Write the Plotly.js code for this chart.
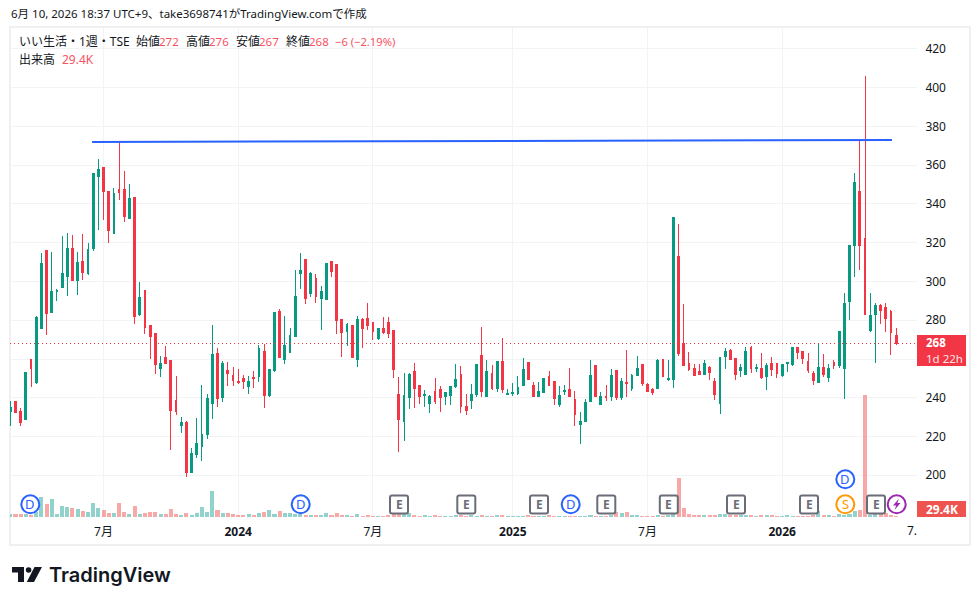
<!DOCTYPE html>
<html><head><meta charset="utf-8">
<script src="https://cdn.plot.ly/plotly-3.0.1.min.js"></script>
<style>html,body{margin:0;padding:0;background:#fff}#c{width:980px;height:605px}
.boxlayer path{shape-rendering:crispEdges}</style>
</head><body><div id="c"></div>
<script>
// Weekly candles, index 0 = week of 2023-02-27, index 171 = week of 2026-06-08
const open = [232.7,237.9,232.7,228.6,259.6,247.7,275.6,315.8,283.8,294.7,
296.7,302.4,316.9,300.3,310.2,304,316.9,354,358.7,346.3,
324.6,347.3,347.3,332.4,343.2,282.8,295.2,277.1,273,254.9,
260.6,259,238.4,225.5,227,201.2,210.5,214.6,221.3,237.3,
262.6,239.9,253.9,251.3,248.2,249.7,245.6,250.4,250.8,263.7,
241,253.9,284.3,259.6,263.2,271.4,304,311.2,293.6,301.4,
291,290.5,310.2,308.6,280.2,274,277.1,259.6,280.2,280.7,
278.7,270.4,275.6,278.7,274.5,241.5,228,239.9,253.4,246.1,
241,236.8,243,244.1,240.4,241,245.6,251.8,235.3,238.8,
241.9,262,240.9,252.7,245,258.9,241.9,242.4,242.4,246.5,
258.4,246.5,240.9,242.9,251.2,248.6,236.7,243.4,244.5,239.3,
226.4,228,238.3,256.9,236.7,240.9,240.9,254.3,240.3,248.1,
245,251.7,257.4,247.1,244.5,245,259.7,249.3,249.3,312.8,
267.9,257.6,255,253.5,251.9,255.5,248.3,236.9,261.2,264.3,
260.2,254,251.9,265.9,255,255,250.9,257.6,257.6,251.4,
257.6,257.1,265.9,263.8,258.6,252.4,247.8,255.5,250.4,258.1,
256.6,255,289.6,318.8,346.2,322,274.6,282.9,287.5,286.5,
284.4,272];
const high = [238.4,238.4,234.8,252.8,260,282.3,314.8,316.4,315.3,296.2,
323.6,325.1,324.1,315.3,324.6,320,355.9,363.3,358.7,346.3,
348.4,372.6,357.1,350.4,343.2,299.8,295.2,277.1,273,261.6,
266.8,259,251.3,230.1,228,214.1,229.6,246.6,242,277.6,
265.7,259,258.5,255.9,254.9,251.8,251.3,253.9,267.3,267.8,
254.9,284.3,285.9,282.3,276.1,306,314.8,311.2,305,304,
297.8,309.6,310.2,309.1,280.2,278.7,277.1,282.3,281.2,289,
278.7,275.6,281.8,281.8,275,250.8,252.8,252.8,258,246.1,
244.1,241.5,250.3,246.1,242.5,246.1,257.5,256.5,242,247,
257.4,276.5,259.4,256.9,258.9,270.8,244.5,247.6,251.2,260.5,
258.4,248.1,248.1,250.2,253.8,248.6,246,246.5,255.3,243.4,
232.6,239.3,259.4,256.9,242.9,246.5,254.8,254.3,250.2,264.6,
252.2,261.5,257.4,247.6,245,260,259.7,259.7,333,329.9,
288.6,263.8,257.6,257.6,259.7,256.6,250.4,261.2,265.9,265.3,
260.2,257.6,266.4,266.9,257.6,263.3,258.1,261.2,257.6,257.1,
258.6,265.9,265.9,263.8,263.3,254,267.9,262.8,257.6,259.7,
274.1,294.3,318.5,356,373,406,294.3,289.1,288.6,289.1,
285.5,276];
const low = [225.5,232.2,225.5,228.6,245.6,247.2,275.6,272.5,283.8,290,
296.7,292.6,300.3,293.1,300.9,303.4,315.8,326.7,331.8,320,
324.6,342.2,330.8,332.4,278.1,282.3,273,260,252.3,250.8,
257.5,213.1,231.2,221.9,199.1,201.2,208.9,207.4,218.8,229.1,
235.3,237.9,246.1,246.1,247.2,244.6,242,245.1,248.2,234.8,
240.4,253.4,260.6,257.5,263.2,271.4,296.2,288.5,292.1,289,
275,290.5,302.4,273,261.1,266.8,260.6,255.9,265.7,275,
269.9,269.9,273,270.9,250.3,212,217.7,234.3,234.8,236.8,
235.3,232.2,236.8,232.7,236.3,236.3,245.1,232.2,231.2,234.1,
240.3,240.3,240.9,244,242.9,242.4,241.9,240.9,241.4,246.5,
249.1,240.9,240.3,242.9,246.5,236.2,235.2,241.4,240.9,225.4,
216,228,238.3,240.3,236.7,238.3,238.3,238.8,238.8,240.3,
243.4,251.7,246,242.9,241.4,245,250.9,248.8,245.2,261.7,
256.6,254,251.4,251.9,251.9,249.3,239,231.8,255,259.7,
249.3,250.9,251.9,252.9,253.5,249.8,244.2,251.4,250.4,250.9,
253.5,256.6,260.2,257.6,252.9,246.7,247.8,250.9,248.3,255,
255.5,239.5,280.3,302.5,306.1,282.9,274.1,258.1,278.2,274.1,
262.2,267];
const close = [234.8,232.2,227,252.8,254.9,281.2,309.1,283.3,294.7,295.2,
304,316.9,300.3,309.6,304.5,316.4,355.6,357.7,346.3,326.2,
345.3,345.8,333.4,342.7,281.8,291.6,276.1,271.4,257,257.5,
257.5,233.2,232.7,227,201.7,211.5,216.2,220.8,239.4,262.1,
239.4,257.5,252.3,248.7,247.7,248.2,248.2,249.9,265.2,241,
254.4,283.8,260.6,266.8,271.9,292.1,305.5,291,304,292.1,
294.7,309.1,305,279.7,273.5,277.6,260.6,280.2,275.6,277.1,
274,275.6,273.5,273,254.4,228.6,241,251.8,244.6,240.4,
241.5,240.4,237.9,239.9,242.5,245.6,249.2,235.3,233.2,241.9,
257.4,243.4,253.8,245,258.9,244.5,242.4,242.9,245.5,254.8,
249.6,240.9,243.4,250.2,246.5,239.8,241.4,244,240.9,231.6,
227.9,237.8,251.7,240.9,240.9,240.3,251.7,240.3,248.6,247.6,
251.7,255.3,247.6,243.4,242.9,259.4,250.9,249.8,333,262.8,
256.6,254.5,251.4,251.9,257.6,252.9,241.6,260.7,263.8,259.7,
251.9,255.5,263.8,255,255.5,250.4,256.6,254.5,252.4,257.1,
258.1,265.9,263.3,260.2,254,248.8,255.5,251.9,255,256.6,
274.1,288.6,318.5,351.3,318.8,282.9,282.4,287.5,285,280.8,
273.6,268];
// Volume, thousands of shares
const volume = [80,80,80,80,50,150,600,380,530,80,
330,300,280,230,180,150,420,270,210,130,
120,420,150,90,330,90,120,150,150,90,
90,240,90,60,120,60,120,300,150,780,
210,120,120,90,60,60,90,60,120,150,
210,90,180,120,120,90,80,60,60,60,
60,120,60,120,60,60,30,90,30,50,
30,30,30,60,90,90,90,120,60,30,
60,30,60,30,30,30,60,60,30,60,
30,60,30,30,60,60,30,30,30,30,
60,30,30,30,60,30,30,30,30,30,
30,30,60,30,30,30,60,150,120,150,
60,60,30,30,30,60,30,50,100,1160,
270,90,60,60,60,60,60,90,90,60,
60,60,60,60,30,60,60,60,30,30,
60,30,30,30,30,60,180,60,60,30,
90,60,90,180,210,3650,60,90,90,120,
60,29.4];
const weekIndex = open.map((_, i) => i);
const xTickIndex = [18, 44, 70, 97, 123, 149];
const xTickText = ['7月','<b>2024</b>','7月','<b>2025</b>','7月','<b>2026</b>'];
const priceTicks = [200,220,240,260,280,300,320,340,360,380,400,420];
// the 260 label lies under the last-price badge in the reference
const priceTickText = ['200','220','240','','280','300','320','340','360','380','400','420'];
const trendX = [15.8, 170.2];
const trendY = [372, 373];
const lastClose = 268;

const UP='#089981', DOWN='#F23645', CORAL='#F7525F', INK='#131722';
const W=980,H=605,L=10,T=27,PW=907,PH=490;
const px=x=>(x-L)/PW, py=y=>1-(y-T)/PH;
const FONT='"Noto Sans","Noto Sans CJK JP",sans-serif';

const volColors = volume.map((_,i)=> close[i]>=open[i] ? 'rgba(38,166,154,0.5)' : 'rgba(239,83,80,0.5)');

const traces=[
 {type:'bar',x:weekIndex,y:volume,marker:{color:volColors,line:{width:0}},width:0.78,xaxis:'x',yaxis:'y',hoverinfo:'skip'},
 {type:'candlestick',x:weekIndex,open,high,low,close,xaxis:'x',yaxis:'y2',whiskerwidth:0,
  increasing:{line:{color:UP,width:1},fillcolor:UP},decreasing:{line:{color:DOWN,width:1},fillcolor:DOWN},hoverinfo:'skip'},
 {type:'scatter',mode:'lines',x:trendX,y:trendY,xaxis:'x',yaxis:'y2',line:{color:'#2962FF',width:2},hoverinfo:'skip'}
];

const shapes=[];
const ann=[];
function txt(x,y,text,o={}){ann.push(Object.assign({xref:'paper',yref:'paper',x:px(x),y:py(y),text,showarrow:false,xanchor:'left',yanchor:'middle',borderpad:0,
  font:{family:FONT,size:12,color:INK}},o));}
function rect(x0,y0,x1,y1,fill,line,lw){shapes.push({type:'rect',xref:'paper',yref:'paper',x0:px(x0),y0:py(y0),x1:px(x1),y1:py(y1),fillcolor:fill,line:{color:line||fill,width:lw===undefined?0:lw},layer:'above'});}
function pathShape(pts,fill){const d=pts.map((p,i)=>(i?'L':'M')+px(p[0])+','+py(p[1])).join(' ')+' Z';
  shapes.push({type:'path',xref:'paper',yref:'paper',path:d,fillcolor:fill,line:{width:0},layer:'above'});}
function circle(cx,cy,r,color){shapes.push({type:'circle',xref:'paper',yref:'paper',x0:px(cx-r),x1:px(cx+r),y0:py(cy+r),y1:py(cy-r),fillcolor:'#fff',line:{color,width:2},layer:'above'});}

// frame
shapes.push({type:'rect',xref:'paper',yref:'paper',x0:px(10),x1:px(970),y0:py(545),y1:py(27),line:{color:'#F0F0F2',width:2},fillcolor:'rgba(0,0,0,0)',layer:'below'});
// last price line
shapes.push({type:'line',xref:'paper',yref:'y2',x0:0,x1:1,y0:lastClose,y1:lastClose,line:{color:DOWN,width:1.2,dash:'1px 3px'},layer:'above'});

// events
[[30.3,504.3],[300.7,504.3],[570.7,504.3],[845.3,479.3]].forEach(p=>{circle(p[0],p[1],9,'#2962FF');txt(p[0],p[1],'D',{xanchor:'center',font:{family:FONT,size:13,color:'#2962FF'}});});
circle(845.3,504.3,9,'#FF9800');txt(845.3,504.3,'S',{xanchor:'center',font:{family:FONT,size:13,color:'#FF9800'}});
circle(896.7,504.3,9,'#9C27B0');
pathShape([[899,498.5],[893,505.5],[896.2,505.5],[894.5,510],[900.5,503],[897.3,503]],'#9C27B0');
[399,466.3,539,606.3,668.8,736,809,876].forEach(cx=>{
  const r=2,a=cx-9,b=cx+9,c=495.5,d=513.5;
  const X=px,Y=py;
  shapes.push({type:'path',xref:'paper',yref:'paper',path:`M${X(a+r)},${Y(c)} L${X(b-r)},${Y(c)} Q${X(b)},${Y(c)} ${X(b)},${Y(c+r)} L${X(b)},${Y(d-r)} Q${X(b)},${Y(d)} ${X(b-r)},${Y(d)} L${X(a+r)},${Y(d)} Q${X(a)},${Y(d)} ${X(a)},${Y(d-r)} L${X(a)},${Y(c+r)} Q${X(a)},${Y(c)} ${X(a+r)},${Y(c)} Z`,fillcolor:'#fff',line:{color:'#6A6D78',width:2},layer:'above'});
  txt(cx,504.5,'<b>E</b>',{xanchor:'center',font:{family:FONT,size:12,color:'#6A6D78'}});
});

// price badges
rect(917,335,966,366,DOWN);
txt(925,342.5,'<b>268</b>',{font:{family:FONT,size:11.5,color:'#fff'}});
txt(925,358.5,'1d 22h',{font:{family:FONT,size:11.5,color:'#FFE3E5'}});
rect(917,501,966,517,'#EF5350');
txt(925,509.5,'<b>29.4K</b>',{font:{family:FONT,size:12,color:'#fff'}});

// cut-off label at the right edge of the time scale
txt(918,530.5,'7.',{xanchor:'right',font:{family:FONT,size:12,color:INK}});

// header text
txt(10,14,'6月 10, 2026 18:37 UTC+9、take3698741がTradingView.comで作成',{font:{family:FONT,size:11.5,color:INK}});
txt(18,41,'いい生活・1週・TSE');
[[135,'始値',158,'272'],[185,'高値',208,'276'],[235,'安値',258,'267'],[285,'終値',308,'268']].forEach(s=>{
  txt(s[0],41,s[1]); txt(s[2],41,s[3],{font:{family:FONT,size:11.5,color:CORAL}});
});
txt(334,41,'−6 (−2.19%)',{font:{family:FONT,size:11.2,color:CORAL}});
txt(18,59,'出来高');
txt(61,59,'29.4K',{font:{family:FONT,size:12,color:CORAL}});

// logo
const LOGO='#131722';
pathShape([[12,567],[24,567],[24,582],[18,582],[18,572.5],[12,572.5]],LOGO);
shapes.push({type:'circle',xref:'paper',yref:'paper',x0:px(25.8),x1:px(31.4),y0:py(572.8),y1:py(567.2),fillcolor:LOGO,line:{width:0},layer:'above'});
pathShape([[34.5,567],[42,567],[34,582],[26.8,582]],LOGO);
txt(47.5,575,'TradingView',{font:{family:'Inter,Roboto,sans-serif',size:20,color:LOGO,weight:600}});

const layout={
 width:W,height:H,margin:{l:L,t:T,r:W-L-PW,b:H-T-PH,pad:0},paper_bgcolor:'#fff',plot_bgcolor:'#fff',showlegend:false,bargap:0,
 boxgap:0.5,
 font:{family:FONT,size:12,color:INK},
 xaxis:{range:[-0.058,175.03],tickmode:'array',tickvals:xTickIndex,ticktext:xTickText,showgrid:true,gridcolor:'#F2F3F5',gridwidth:1,zeroline:false,showline:false,
   ticks:'outside',ticklen:4,tickcolor:'rgba(0,0,0,0)',tickangle:0,tickfont:{family:FONT,size:12,color:INK},rangeslider:{visible:false},fixedrange:true},
 yaxis:{range:[0,14700],visible:false,fixedrange:true},
 yaxis2:{range:[178.48,431.3],overlaying:'y',side:'right',anchor:'x',tickmode:'array',tickvals:priceTicks,ticktext:priceTickText,showgrid:true,gridcolor:'#F2F3F5',gridwidth:1,
   zeroline:false,showline:false,ticks:'outside',ticklen:5,tickcolor:'rgba(0,0,0,0)',tickfont:{family:FONT,size:12,color:INK},fixedrange:true},
 shapes,annotations:ann
};
Plotly.newPlot('c',traces,layout,{displayModeBar:false,staticPlot:true});
</script></body></html>
